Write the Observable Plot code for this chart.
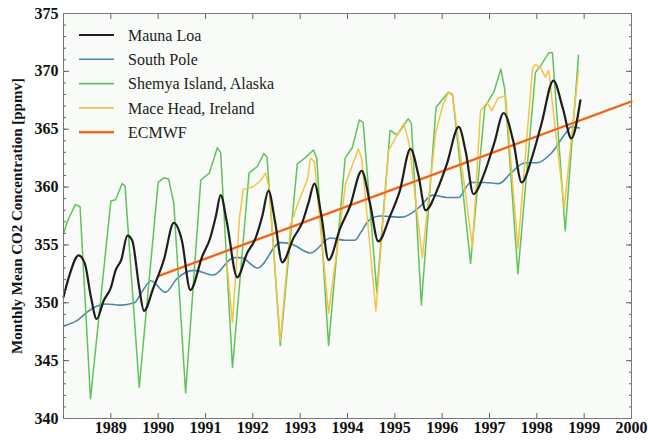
<!DOCTYPE html>
<html><head><meta charset="utf-8">
<script src="https://cdn.jsdelivr.net/npm/d3@7"></script>
<script src="https://cdn.jsdelivr.net/npm/@observablehq/plot@0.6"></script>
<style>body{margin:0;background:#fff} svg text{font-family:"Liberation Serif","DejaVu Serif",serif !important}</style>
</head><body><div id="chart"></div>
<script>
// Mauna Loa
const mlYear = [1988.00,1988.12,1988.32,1988.45,1988.58,1988.70,1988.85,1989.00,1989.10,1989.22,1989.35,1989.45,1989.60,1989.70,1989.90,1990.12,1990.33,1990.50,1990.68,1990.93,1991.10,1991.22,1991.32,1991.45,1991.67,1991.88,1992.05,1992.20,1992.33,1992.47,1992.62,1992.86,1993.05,1993.18,1993.30,1993.45,1993.60,1993.85,1994.05,1994.30,1994.48,1994.65,1994.90,1995.10,1995.33,1995.50,1995.65,1995.90,1996.10,1996.35,1996.50,1996.66,1996.90,1997.10,1997.30,1997.50,1997.68,1997.90,1998.10,1998.35,1998.55,1998.73,1998.92];
const mlCO2  = [350.5,352.3,354.1,353.4,350.5,348.6,350.2,351.3,352.8,353.7,355.8,355.4,351.3,349.3,351.3,353.7,356.9,355.4,351.1,354.0,355.6,357.5,359.3,357.0,352.2,354.3,355.5,357.5,359.7,357.0,353.5,355.6,357.0,358.7,360.3,357.5,353.7,356.5,358.3,361.4,358.5,355.3,357.5,359.6,363.3,361.0,358.0,359.8,362.0,365.2,363.0,359.4,361.3,363.8,366.4,364.0,360.4,362.6,365.5,369.2,366.8,364.2,367.5];
// South Pole
const spYear = [1988.0,1988.3,1988.5,1988.7,1988.9,1989.2,1989.5,1989.65,1989.85,1990.15,1990.4,1990.75,1991.17,1991.6,1991.75,1992.1,1992.58,1992.8,1993.22,1993.64,1993.95,1994.15,1994.3,1994.45,1994.7,1995.15,1995.5,1995.8,1996.1,1996.35,1996.6,1996.9,1997.2,1997.45,1997.75,1998.0,1998.3,1998.6,1998.73,1998.9];
const spCO2  = [348.0,348.5,349.2,349.7,349.9,349.8,350.0,350.9,351.9,350.9,352.1,352.8,352.4,353.9,353.9,353.0,355.2,355.1,354.3,355.6,355.4,355.4,356.2,357.1,357.5,357.4,358.2,359.3,359.1,359.1,360.4,360.4,360.3,361.2,362.1,362.1,362.9,364.6,365.2,365.1];
// Shemya Island, Alaska
const shYear = [1988.0,1988.1,1988.25,1988.35,1988.57,1989.0,1989.1,1989.24,1989.3,1989.6,1990.0,1990.12,1990.22,1990.33,1990.58,1990.9,1991.08,1991.25,1991.32,1991.57,1991.92,1992.1,1992.23,1992.3,1992.58,1992.94,1993.1,1993.28,1993.35,1993.6,1993.95,1994.1,1994.25,1994.33,1994.62,1994.9,1995.05,1995.28,1995.35,1995.56,1995.87,1996.13,1996.22,1996.6,1996.9,1997.1,1997.24,1997.32,1997.6,1997.97,1998.1,1998.25,1998.33,1998.6,1998.88];
const shCO2  = [356.0,357.2,358.5,358.3,341.7,358.8,358.9,360.3,360.1,342.7,360.4,360.8,360.7,358.6,342.2,360.6,361.2,363.4,363.0,344.4,361.2,361.8,362.9,362.6,346.3,362.0,362.5,363.2,362.5,346.3,362.5,363.4,365.8,365.6,350.9,364.9,364.5,365.9,365.5,349.8,366.9,368.2,368.0,353.4,366.9,368.3,370.2,368.5,352.5,369.9,370.6,371.6,371.6,356.2,371.4];
// Mace Head, Ireland
const mhYear = [1991.45,1991.57,1991.72,1991.8,1992.0,1992.15,1992.27,1992.35,1992.58,1992.8,1993.0,1993.15,1993.22,1993.3,1993.6,1993.96,1994.23,1994.3,1994.6,1994.87,1995.02,1995.19,1995.3,1995.58,1995.86,1996.0,1996.13,1996.22,1996.64,1996.81,1996.95,1997.05,1997.18,1997.34,1997.6,1997.91,1997.97,1998.08,1998.18,1998.25,1998.58,1998.88];
const mhCO2  = [353.5,348.3,357.4,359.8,360.0,360.5,361.2,359.8,346.7,356.8,359.1,360.6,362.5,362.2,349.1,360.3,363.3,362.5,349.3,363.2,364.3,365.5,363.8,353.9,364.6,366.9,368.2,367.9,354.8,366.6,367.3,366.6,367.7,367.9,354.7,370.3,370.6,370.3,369.5,370.1,358.2,370.1];
// ECMWF
const ecYear = [1990, 2000];
const ecCO2  = [352.3, 367.4];

const legendNames = ["Mauna Loa","South Pole","Shemya Island, Alaska","Mace Head, Ireland","ECMWF"];
const legendColors = ["#1e1e1e","#4f86b0","#5fc45a","#f5c445","#ee4b2b"];
const xTicks = [1989,1990,1991,1992,1993,1994,1995,1996,1997,1998,1999,2000];
const yMajor = [340,345,350,355,360,365,370,375];
const yMinor = d3.range(340, 376, 1);
const yTitle = "Monthly Mean CO2 Concentration [ppmv]";

const rows = (xs, ys) => xs.map((x, i) => ({x, y: ys[i]}));
const font = "Liberation Serif, DejaVu Serif, serif";
const tickStroke = "#666";
const ecUnder = "#f8ad45";

const chart = Plot.plot({
  width: 648, height: 440,
  marginLeft: 63, marginRight: 17, marginTop: 13, marginBottom: 22,
  x: {domain: [1988, 2000]},
  y: {domain: [340, 375]},
  style: {fontFamily: font, fontSize: "15px", color: "#111", background: "#fff"},
  marks: [
    Plot.frame({fill: "#f8fbf7", stroke: null}),
    Plot.line(rows(spYear, spCO2), {x: "x", y: "y", stroke: legendColors[1], strokeWidth: 1.6, curve: "monotone-x"}),
    Plot.line(rows(shYear, shCO2), {x: "x", y: "y", stroke: legendColors[2], strokeWidth: 1.5}),
    Plot.line(rows(mhYear, mhCO2), {x: "x", y: "y", stroke: legendColors[3], strokeWidth: 1.5}),
    Plot.line(rows(ecYear, ecCO2), {x: "x", y: "y", stroke: ecUnder, strokeWidth: 2.8}),
    Plot.line(rows(ecYear, ecCO2), {x: "x", y: "y", stroke: legendColors[4], strokeWidth: 1.4}),
    Plot.line(rows(mlYear, mlCO2), {x: "x", y: "y", stroke: legendColors[0], strokeWidth: 2.2, curve: "monotone-x"}),
    Plot.axisY(yMinor, {anchor: "left", tickSize: -3, tickFormat: () => "", stroke: tickStroke, label: null}),
    Plot.axisY(yMinor, {anchor: "right", tickSize: -3, tickFormat: () => "", stroke: tickStroke, label: null}),
    Plot.axisY(yMajor, {anchor: "left", tickSize: -6, tickPadding: 11, tickFormat: "d", stroke: tickStroke, fontWeight: "bold", fontSize: 16, label: null}),
    Plot.axisY(yMajor, {anchor: "right", tickSize: -6, tickFormat: () => "", stroke: tickStroke, label: null}),
    Plot.axisX(xTicks, {anchor: "bottom", tickSize: -5, tickPadding: 8, tickFormat: "d", stroke: tickStroke, fontWeight: "bold", fontSize: 16, label: null}),
    Plot.axisX(xTicks, {anchor: "top", tickSize: -5, tickFormat: () => "", stroke: tickStroke, label: null}),
    Plot.frame({stroke: "#777", strokeWidth: 1}),
    Plot.text([yTitle], {frameAnchor: "left", textAnchor: "middle", dx: -46, rotate: -90, fontSize: 15, fontWeight: "bold", fill: "#111"})
  ]
});
document.getElementById("chart").appendChild(chart);

// legend inside the plot area
const svg = d3.select(chart);
const lg = svg.append("g").attr("font-family", font).attr("font-size", 16)
  .attr("fill", "#222").attr("text-anchor", "start");
legendNames.forEach((name, i) => {
  const y = 35 + i * 24.3;
  if (i === 4) {
    lg.append("line").attr("x1", 79).attr("x2", 114).attr("y1", y).attr("y2", y)
      .attr("stroke", ecUnder).attr("stroke-width", 2.8);
  }
  lg.append("line").attr("x1", 79).attr("x2", 114).attr("y1", y).attr("y2", y)
    .attr("stroke", legendColors[i]).attr("stroke-width", i === 0 ? 2.2 : (i === 4 ? 1.4 : 1.6));
  lg.append("text").attr("x", 128).attr("y", y).attr("dy", "0.35em").attr("text-anchor", "start").text(name);
});
</script>
</body></html>
